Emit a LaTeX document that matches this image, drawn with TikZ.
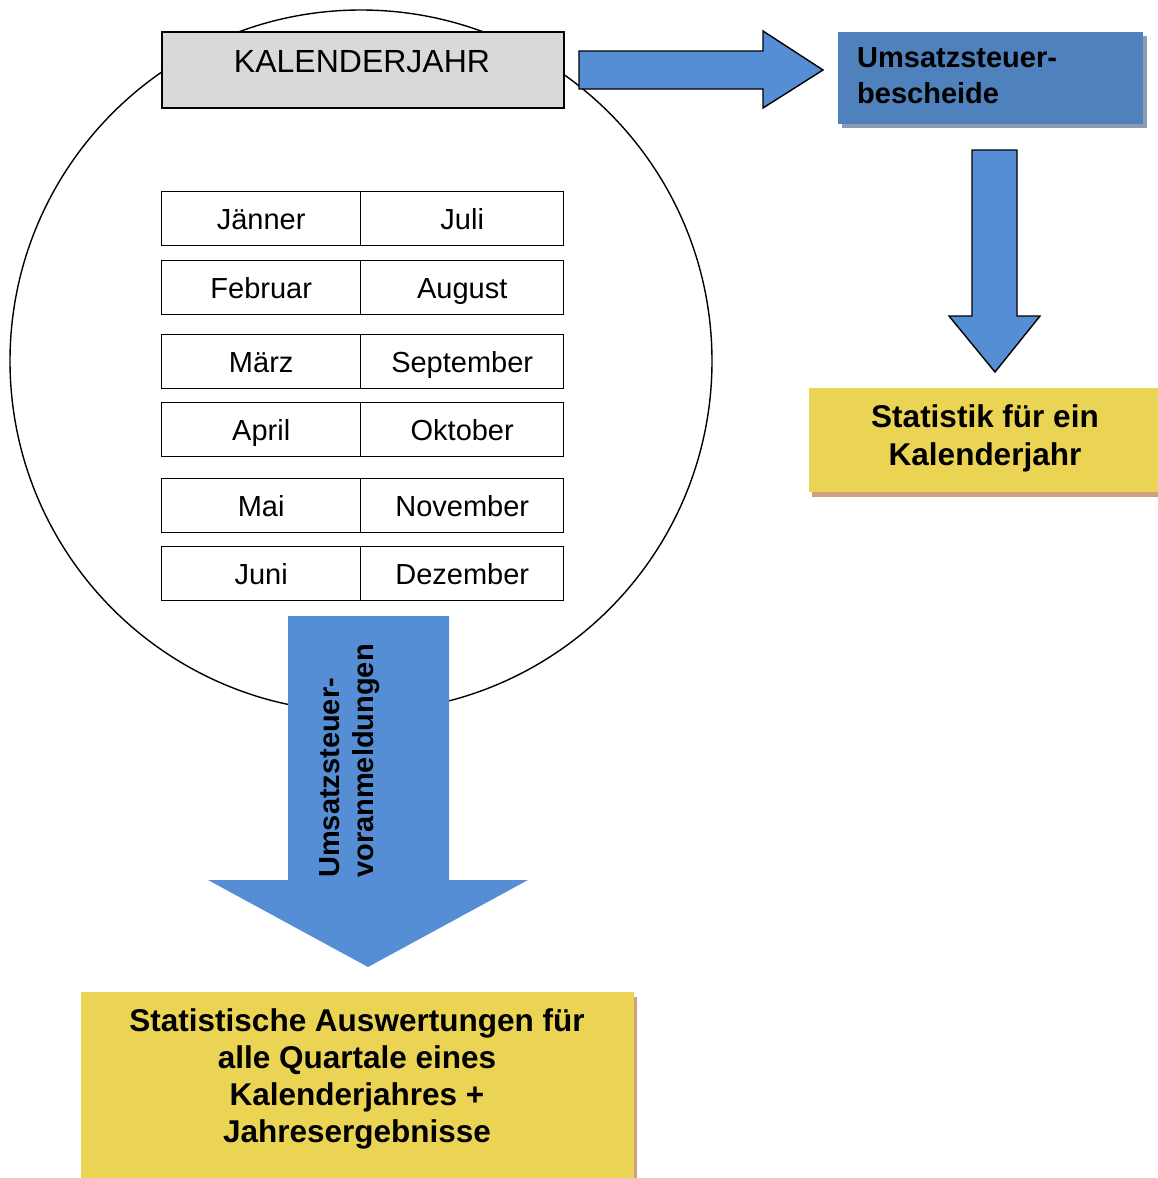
\documentclass[tikz,border=0pt]{standalone}
\usepackage{fontspec}
\setmainfont{Liberation Sans}
\definecolor{arrowblue}{HTML}{558ED5}
\definecolor{boxblue}{HTML}{4F81BD}
\definecolor{shadowgray}{HTML}{8D9CB3}
\definecolor{sunyellow}{HTML}{EBD453}
\definecolor{tanshadow}{HTML}{CFA07E}
\definecolor{kalgray}{HTML}{D9D9D9}
\begin{document}
\begin{tikzpicture}[x=1pt,y=-1pt,
  cell/.style={draw, line width=1.4pt, fill=white, inner sep=0pt, anchor=north west,
    minimum height=54pt, text height=20.8pt, text depth=0pt,
    font=\fontsize{29}{34}\selectfont},
  lcell/.style={cell, minimum width=199pt},
  rcell/.style={cell, minimum width=203pt},
  blockarrow/.style={fill=arrowblue, draw=black, line width=1.4pt, line join=miter},
  boldtext/.style={inner sep=0pt, font=\bfseries\fontsize{#1}{#1}\selectfont},
]
\useasboundingbox (0,0) rectangle (1157,1178);

% big circle
\draw[line width=1.4pt] (361,361) circle[radius=351pt];

% KALENDERJAHR header
\node[draw, line width=1.8pt, fill=kalgray, anchor=north west, minimum width=402pt,
  minimum height=76pt, inner sep=0pt] (kal) at (161,31) {};
\node[inner sep=0pt, text height=23pt, text depth=0pt, font=\fontsize{32}{38}\selectfont]
  (kaltext) at (362,61) {KALENDERJAHR};

% month cells
\node[lcell] (jan) at (161,191) {Jänner};
\node[rcell] (jul) at (360,191) {Juli};
\node[lcell] (feb) at (161,260) {Februar};
\node[rcell] (aug) at (360,260) {August};
\node[lcell] (mar) at (161,334) {März};
\node[rcell] (sep) at (360,334) {September};
\node[lcell] (apr) at (161,402) {April};
\node[rcell] (okt) at (360,402) {Oktober};
\node[lcell] (mai) at (161,478) {Mai};
\node[rcell] (nov) at (360,478) {November};
\node[lcell] (jun) at (161,546) {Juni};
\node[rcell] (dez) at (360,546) {Dezember};

% right block arrow
\draw[blockarrow] (579,51) -- (763,51) -- (763,31) -- (823,70) -- (763,108) -- (763,89) -- (579,89) -- cycle;

% Umsatzsteuerbescheide box
\fill[shadowgray] (842,36) rectangle (1147,128);
\node[fill=boxblue, anchor=north west, minimum width=305pt, minimum height=92pt, inner sep=0pt]
  (ustb) at (838,32) {};
\node[boldtext=29, align=left, anchor=north west, font=\bfseries\fontsize{29}{36}\selectfont]
  (ustbtext) at (857,47) {Umsatzsteuer-\\bescheide};

% down arrow right
\draw[blockarrow] (972,150) -- (1017,150) -- (1017,316) -- (1040,316) -- (995,372) -- (949,316) -- (972,316) -- cycle;

% Statistik box
\fill[tanshadow] (812,393) rectangle (1160,497);
\node[fill=sunyellow, anchor=north west, minimum width=350pt, minimum height=104pt, inner sep=0pt]
  (stat) at (809,388) {};
\node[align=center, anchor=north, inner sep=0pt, font=\bfseries\fontsize{31.5}{38}\selectfont]
  (stattext) at (985,404) {Statistik für ein\\Kalenderjahr};

% big down arrow
\fill[arrowblue] (288,616) -- (449,616) -- (449,880) -- (528,880) -- (368,967) -- (208,880) -- (288,880) -- cycle;
\node[rotate=90, anchor=north west, align=left, inner sep=0pt,
  font=\bfseries\fontsize{29}{34}\selectfont] (uvatext) at (319,878) {Umsatzsteuer-\\voranmeldungen};

% bottom yellow box
\fill[tanshadow] (84,997) rectangle (637,1190);
\node[fill=sunyellow, anchor=north west, minimum width=553pt, minimum height=200pt, inner sep=0pt]
  (ausw) at (81,992) {};
\node[align=center, anchor=north, inner sep=0pt, font=\bfseries\fontsize{31.5}{37}\selectfont]
  (auswtext) at (357,1008) {Statistische Auswertungen für\\alle Quartale eines\\Kalenderjahres +\\Jahresergebnisse};
\end{tikzpicture}
\end{document}
